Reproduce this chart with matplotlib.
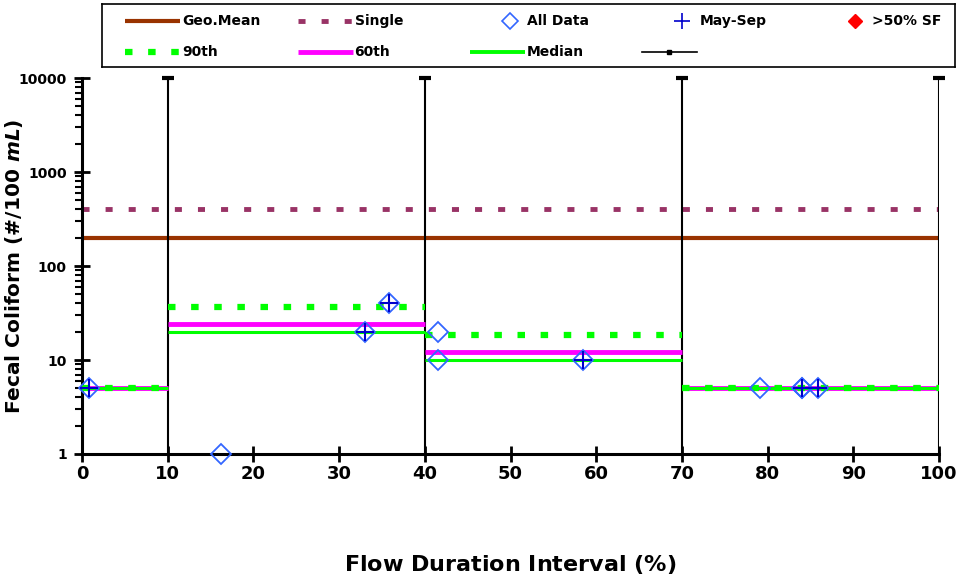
import matplotlib.pyplot as plt
from matplotlib.ticker import LogLocator, FixedLocator, NullFormatter

plt.rcParams['font.family'] = 'DejaVu Sans'
plt.rcParams['font.weight'] = 'bold'
plt.rcParams['mathtext.fontset'] = 'custom'
plt.rcParams['mathtext.it'] = 'DejaVu Sans:italic:bold'
plt.rcParams['mathtext.rm'] = 'DejaVu Sans:bold'

# flow zones (duration interval edges, %)
zone_edges = [0, 10, 40, 70, 100]

# reference criteria
geo_mean = 200
single = 400

# percentiles per flow zone
p90 = [5, 36.6, 18.4, 5]
p60 = [5, 24.0, 12.2, 5]
median = [5, 20.0, 10.0, 5]

# samples
all_x = [0.8, 16.2, 33.0, 35.8, 41.5, 41.5, 58.4, 79.1, 84.0, 84.0, 85.9]
all_y = [5, 1, 20, 40, 20, 10, 10, 5, 5, 5, 5]
may_sep_x = [0.8, 33.0, 35.8, 58.4, 84.0, 84.0, 85.9]
may_sep_y = [5, 20, 40, 10, 5, 5, 5]

brown = '#993300'
plum = '#993366'
lime = '#00FF00'
magenta = '#FF00FF'
blue = '#3366FF'
navy = '#0000CC'

# line styles shared by plot and key
sty = {
    'geo': dict(color=brown, lw=3, solid_capstyle='butt'),
    'single': dict(color=plum, lw=3.5, dashes=(1.45, 3.3), dash_capstyle='butt'),
    'p90': dict(color=lime, lw=4.5, dashes=(1.2, 2.5), dash_capstyle='butt'),
    'p60': dict(color=magenta, lw=3.5, solid_capstyle='butt'),
    'median': dict(color=lime, lw=2.2, solid_capstyle='butt'),
}

fig = plt.figure(figsize=(9.61, 5.81), dpi=100)
ax = fig.add_axes([0.0853, 0.2186, 0.892, 0.647])

ax.axhline(single, zorder=2, **sty['single'])
ax.axhline(geo_mean, zorder=2, **sty['geo'])

for i in range(4):
    x0, x1 = zone_edges[i], zone_edges[i + 1]
    ax.plot([x0, x1], [p60[i], p60[i]], zorder=3, **sty['p60'])
    ax.plot([x0, x1], [median[i], median[i]], zorder=3, **sty['median'])
    ax.plot([x0, x1], [p90[i], p90[i]], zorder=3, **sty['p90'])

ax.vlines(zone_edges[1:], 1, 10000, color='black', lw=1.5, zorder=2)
ax.plot(zone_edges[1:], [10000] * 4, ls='none', marker='_', color='black', ms=8, mew=3,
        clip_on=False, zorder=2)

ax.plot(all_x, all_y, ls='none', marker='D', ms=10.5, mfc='none', mec=blue, mew=1.3,
        clip_on=False, zorder=4)
ax.plot(may_sep_x, may_sep_y, ls='none', marker='+', ms=13, mec=navy, mew=1.5,
        clip_on=False, zorder=5)

ax.set_yscale('log')
ax.set_ylim(1, 10000)
ax.set_xlim(0, 100)
ax.xaxis.set_major_locator(FixedLocator(range(0, 101, 10)))
ax.yaxis.set_major_locator(FixedLocator([1, 10, 100, 1000, 10000]))
ax.yaxis.set_minor_locator(LogLocator(base=10, subs=range(2, 10), numticks=20))
ax.yaxis.set_minor_formatter(NullFormatter())
ax.set_yticklabels(['1', '10', '100', '1000', '10000'])

for s in ['top', 'right']:
    ax.spines[s].set_visible(False)
for s in ['left', 'bottom']:
    ax.spines[s].set_linewidth(2.2)

ax.tick_params(axis='both', which='major', direction='inout', length=12, width=2)
ax.tick_params(axis='x', labelsize=13, pad=2)
ax.tick_params(axis='y', labelsize=10, pad=5)
ax.tick_params(axis='y', which='minor', direction='out', length=5, width=1.5)

ax.set_xlabel(r'Flow Duration Interval $\mathit{(\%)}$', fontsize=16, fontweight='bold',
              labelpad=50)
ax.set_ylabel(r'Fecal Coliform $\mathit{(\#/100\ mL)}$', fontsize=14.5, fontweight='bold')
ax.yaxis.set_label_coords(-0.066, 0.5)

# key box across the top, laid out in even columns
lax = fig.add_axes([102 / 961, 1 - 67 / 581, 853 / 961, 63 / 581])
lax.set_xlim(0, 853)
lax.set_ylim(63, 0)
lax.set_xticks([])
lax.set_yticks([])
for s in lax.spines.values():
    s.set_linewidth(1.2)

key = [
    (0, 0, 'Geo.Mean', 'line', sty['geo']),
    (1, 0, 'Single', 'line', sty['single']),
    (2, 0, 'All Data', 'mark', dict(marker='D', ms=8, mfc='none', mec=blue, mew=1.2)),
    (3, 0, 'May-Sep', 'mark', dict(marker='+', ms=11, mec=navy, mew=1.2)),
    (4, 0, '>50% SF', 'mark', dict(marker='D', ms=7, mfc='red', mec='red')),
    (0, 1, '90th', 'line', sty['p90']),
    (1, 1, '60th', 'line', sty['p60']),
    (2, 1, 'Median', 'line', dict(sty['median'], lw=2.8)),
    (3, 1, '', 'line', dict(color='black', lw=1.2, marker='s', ms=3, markevery=[1])),
]
row_y = [17, 48]
for col, row, text, kind, kw in key:
    x0 = 23 + 172.5 * col
    y = row_y[row]
    if kind == 'line':
        lax.plot([x0, x0 + 27, x0 + 55], [y, y, y], **kw)
    else:
        lax.plot([x0 + 40], [y], ls='none', **kw)
    lax.text(x0 + 57, y, text, fontsize=10, va='center', ha='left')

fig.savefig('out.png', dpi=100)
